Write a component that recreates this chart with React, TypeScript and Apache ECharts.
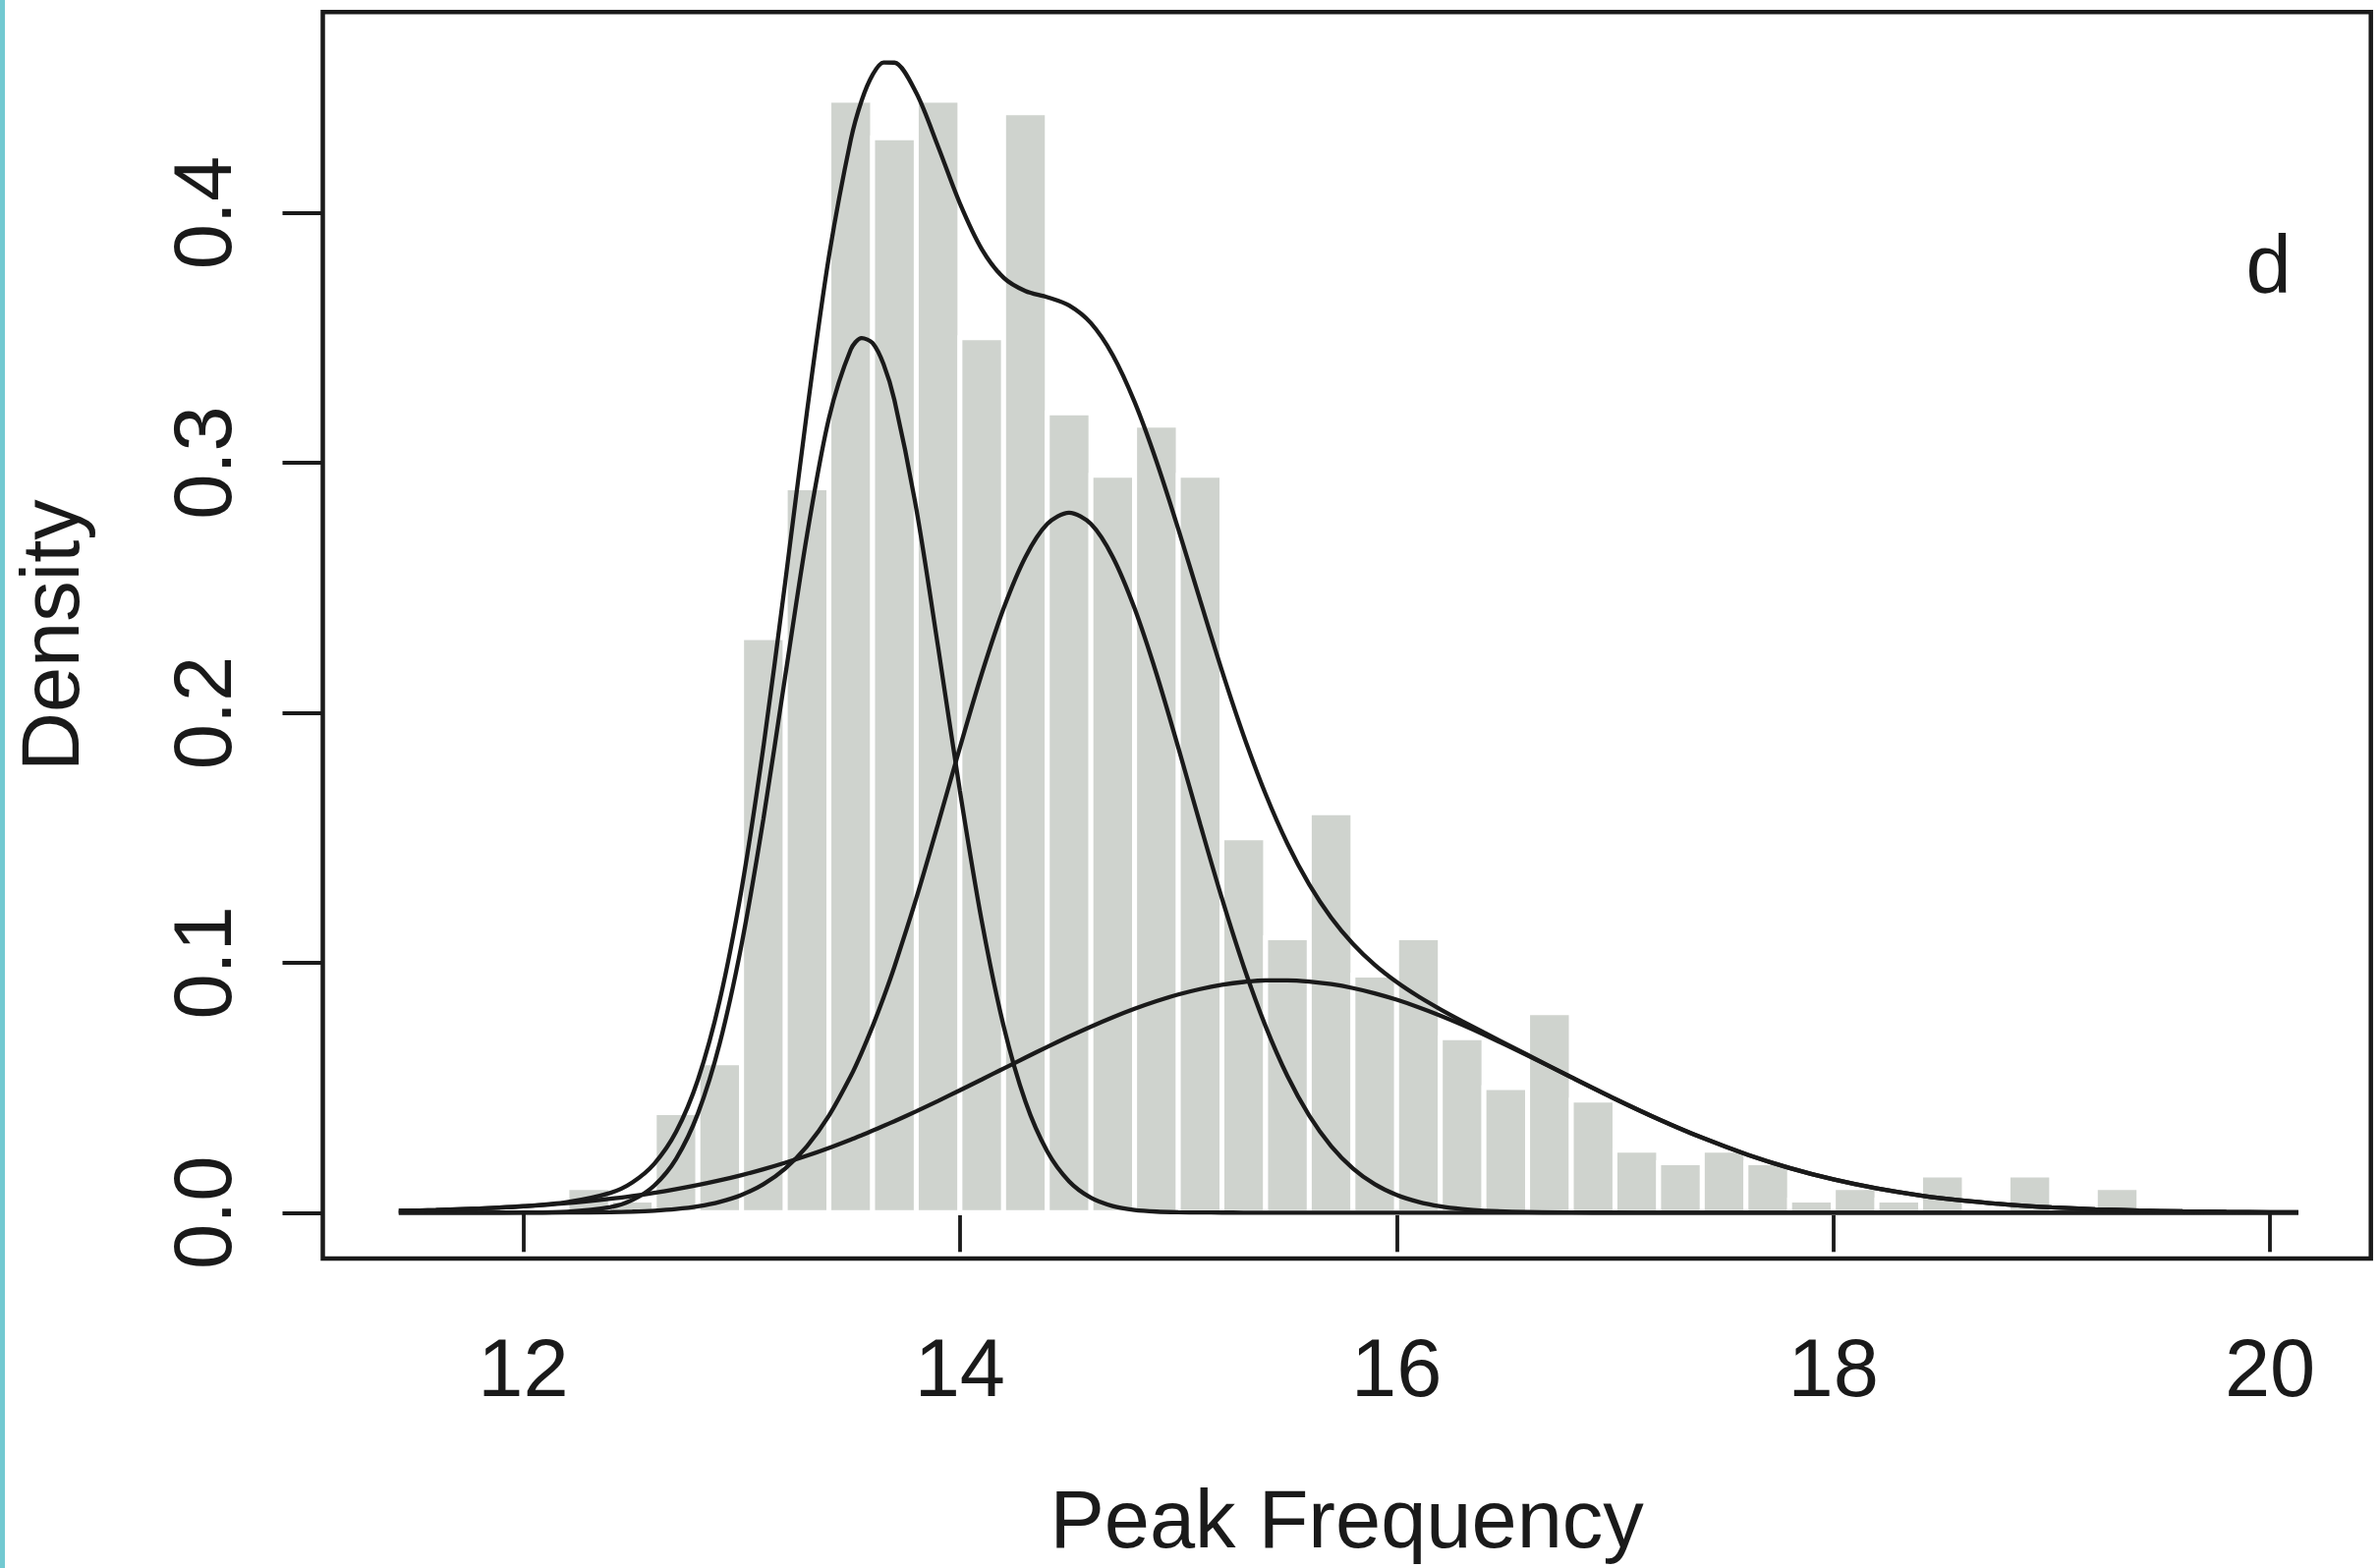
import React, { useEffect, useRef } from "react";
import * as echarts from "echarts";

// Histogram (bin width 0.2), density values
const binStart = [12.2, 12.4, 12.6, 12.8, 13.0, 13.2, 13.4, 13.6, 13.8, 14.0, 14.2, 14.4, 14.6, 14.8, 15.0, 15.2, 15.4, 15.6, 15.8, 16.0, 16.2, 16.4, 16.6, 16.8, 17.0, 17.2, 17.4, 17.6, 17.8, 18.0, 18.2, 18.4, 18.6, 18.8, 19.0, 19.2];
const binEnd = [12.4, 12.6, 12.8, 13.0, 13.2, 13.4, 13.6, 13.8, 14.0, 14.2, 14.4, 14.6, 14.8, 15.0, 15.2, 15.4, 15.6, 15.8, 16.0, 16.2, 16.4, 16.6, 16.8, 17.0, 17.2, 17.4, 17.6, 17.8, 18.0, 18.2, 18.4, 18.6, 18.8, 19.0, 19.2, 19.4];
const binDensity = [0.01, 0.005, 0.04, 0.06, 0.23, 0.29, 0.445, 0.43, 0.445, 0.35, 0.44, 0.32, 0.295, 0.315, 0.295, 0.15, 0.11, 0.16, 0.095, 0.11, 0.07, 0.05, 0.08, 0.045, 0.025, 0.02, 0.025, 0.02, 0.005, 0.01, 0.005, 0.015, 0, 0.015, 0, 0.01];

// Curves at these x positions
const curveX = [11.43, 11.6, 11.8, 12.0, 12.2, 12.4, 12.5, 12.6, 12.7, 12.8, 12.9, 13.0, 13.1, 13.2, 13.3, 13.4, 13.5, 13.55, 13.6, 13.65, 13.7, 13.8, 13.9, 14.0, 14.1, 14.2, 14.3, 14.4, 14.5, 14.6, 14.7, 14.8, 14.9, 15.0, 15.1, 15.2, 15.3, 15.4, 15.5, 15.6, 15.7, 15.8, 15.9, 16.0, 16.1, 16.2, 16.3, 16.4, 16.6, 16.8, 17.0, 17.2, 17.4, 17.6, 17.8, 18.0, 18.2, 18.4, 18.6, 18.8, 19.0, 19.2, 19.4, 19.6, 19.8, 20.0, 20.13];

const comp1 = [0, 0, 0.000003, 0.000036, 0.00033, 0.00219, 0.00506, 0.01084, 0.02152, 0.03966, 0.06773, 0.1073, 0.1576, 0.2147, 0.2713, 0.3178, 0.3453, 0.3499, 0.3479, 0.3395, 0.3251, 0.2817, 0.2263, 0.1687, 0.1166, 0.0747, 0.0444, 0.02446, 0.0125, 0.00593, 0.00261, 0.00106, 0.0004, 0.00014, 0.00005, 0.000014, 0.000004, 0, 0, 0, 0, 0, 0, 0, 0, 0, 0, 0, 0, 0, 0, 0, 0, 0, 0, 0, 0, 0, 0, 0, 0, 0, 0, 0, 0, 0, 0];

const comp2 = [0, 0, 0.000002, 0.00001, 0.000049, 0.000208, 0.000406, 0.000767, 0.001405, 0.00249, 0.00427, 0.00709, 0.01138, 0.0177, 0.02663, 0.03878, 0.05463, 0.06406, 0.07454, 0.08599, 0.09839, 0.1257, 0.1555, 0.1861, 0.2156, 0.2417, 0.2623, 0.2755, 0.28, 0.2755, 0.2623, 0.2417, 0.2156, 0.1861, 0.1555, 0.1257, 0.09839, 0.07454, 0.05463, 0.03878, 0.02663, 0.0177, 0.01138, 0.00709, 0.00427, 0.00249, 0.001405, 0.000767, 0.000208, 0.000049, 0.00001, 0.000002, 0, 0, 0, 0, 0, 0, 0, 0, 0, 0, 0, 0, 0, 0, 0];

const comp3 = [0.000698, 0.001045, 0.001645, 0.002526, 0.003786, 0.005541, 0.006643, 0.007915, 0.009377, 0.01104, 0.01292, 0.01503, 0.01737, 0.01997, 0.02281, 0.0259, 0.02924, 0.031, 0.0328, 0.03467, 0.03659, 0.04055, 0.04469, 0.04895, 0.05328, 0.05765, 0.06201, 0.0663, 0.07046, 0.07443, 0.07815, 0.08156, 0.08462, 0.08726, 0.08944, 0.09112, 0.09228, 0.0929, 0.09296, 0.09245, 0.0914, 0.08982, 0.08773, 0.08518, 0.0822, 0.07886, 0.0752, 0.07127, 0.06288, 0.05415, 0.04552, 0.03737, 0.02994, 0.02341, 0.01787, 0.01332, 0.00969, 0.00688, 0.00477, 0.00323, 0.00213, 0.00138, 0.00087, 0.00053, 0.00032, 0.00019, 0.00014];

const mixture = [0.0007, 0.00105, 0.00165, 0.00257, 0.00417, 0.00794, 0.01211, 0.01952, 0.0323, 0.05319, 0.08492, 0.12942, 0.18635, 0.25237, 0.32074, 0.38248, 0.42917, 0.44496, 0.45524, 0.46016, 0.46008, 0.44795, 0.42649, 0.40375, 0.38548, 0.37405, 0.36871, 0.36626, 0.36296, 0.35586, 0.34306, 0.32432, 0.30062, 0.2735, 0.24499, 0.21683, 0.19067, 0.16744, 0.14759, 0.13123, 0.11803, 0.10752, 0.09911, 0.09227, 0.08647, 0.08135, 0.07661, 0.07204, 0.06309, 0.0542, 0.04553, 0.03737, 0.02994, 0.02341, 0.01787, 0.01332, 0.00969, 0.00688, 0.00477, 0.00323, 0.00213, 0.00138, 0.00087, 0.00053, 0.00032, 0.00019, 0.00014];

const xTicks = [12, 14, 16, 18, 20];
const yTicks = [0, 0.1, 0.2, 0.3, 0.4];
const xTitle = "Peak Frequency";
const yTitle = "Density";
const panelLabel = "d";

const FONT = "'Liberation Sans', Arial, Helvetica, sans-serif";
const INK = "#1a1a1a";

export default function App() {
  const ref = useRef<HTMLDivElement>(null);

  useEffect(() => {
    if (!ref.current) return;
    const chart = echarts.init(ref.current, null, { renderer: "svg" });

    const bars = binStart
      .map((s, i) => [s, binEnd[i], binDensity[i]])
      .filter((d) => d[2] > 0);

    const curve = (ys: number[]) => curveX.map((x, i) => [x, ys[i]]);

    const lineSeries = (name: string, ys: number[]) => ({
      type: "line",
      name,
      data: curve(ys),
      showSymbol: false,
      symbol: "none",
      smooth: 0.3,
      lineStyle: { color: INK, width: 4.3 },
      z: 3,
    });

    chart.setOption({
      animation: false,
      backgroundColor: "#ffffff",
      textStyle: { fontFamily: FONT },
      grid: {
        left: 328.5,
        top: 12.3,
        width: 2084.2,
        height: 1268.7,
        show: true,
        borderColor: INK,
        borderWidth: 4.5,
        backgroundColor: "transparent",
      },
      xAxis: {
        type: "value",
        min: 11.082,
        max: 20.462,
        name: xTitle,
        nameLocation: "middle",
        nameGap: 224,
        nameTextStyle: { fontSize: 83, fontFamily: FONT, color: INK, lineHeight: 83 },
        axisLine: { show: false },
        splitLine: { show: false },
        axisTick: {
          show: true,
          length: 40,
          customValues: xTicks,
          lineStyle: { color: INK, width: 3.8 },
        },
        axisLabel: {
          customValues: xTicks,
          fontSize: 83,
          lineHeight: 83,
          fontFamily: FONT,
          color: INK,
          margin: 70,
          formatter: (v: number) => String(v),
        },
      },
      yAxis: {
        type: "value",
        min: -0.01836,
        max: 0.4803,
        name: yTitle,
        nameLocation: "middle",
        nameGap: 236,
        nameRotate: 90,
        nameTextStyle: { fontSize: 83, fontFamily: FONT, color: INK, lineHeight: 83 },
        axisLine: { show: false },
        splitLine: { show: false },
        axisTick: {
          show: true,
          length: 41,
          customValues: yTicks,
          lineStyle: { color: INK, width: 3.8 },
        },
        axisLabel: {
          customValues: yTicks,
          rotate: 90,
          fontSize: 83,
          lineHeight: 83,
          fontFamily: FONT,
          color: INK,
          margin: 81,
          formatter: (v: number) => v.toFixed(1),
        },
      },
      graphic: [
        {
          type: "rect",
          left: 0,
          top: 0,
          shape: { x: 0, y: 0, width: 5, height: 1596 },
          style: { fill: "#72c9d1" },
          silent: true,
        },
        {
          type: "text",
          x: 2308.5,
          y: 269,
          style: {
            text: panelLabel,
            fontSize: 83,
            fontFamily: FONT,
            fill: INK,
            textAlign: "center",
            textVerticalAlign: "middle",
            align: "center",
            verticalAlign: "middle",
          },
          silent: true,
        },
      ],
      series: [
        {
          type: "custom",
          name: "histogram",
          data: bars,
          encode: { x: [0, 1], y: 2 },
          z: 1,
          renderItem: (params: any, api: any) => {
            const a = api.coord([api.value(0), api.value(2)]);
            const b = api.coord([api.value(1), 0]);
            return {
              type: "rect",
              shape: { x: a[0], y: a[1], width: b[0] - a[0], height: b[1] - a[1] },
              style: { fill: "#cfd3ce", stroke: "#ffffff", lineWidth: 5 },
            };
          },
        },
        lineSeries("component 1", comp1),
        lineSeries("component 2", comp2),
        lineSeries("component 3", comp3),
        lineSeries("mixture", mixture),
      ],
    });

    return () => chart.dispose();
  }, []);

  return (
    <div
      ref={ref}
      style={{ position: "absolute", left: 0, top: 0, width: 2422, height: 1596, background: "#ffffff" }}
    />
  );
}
